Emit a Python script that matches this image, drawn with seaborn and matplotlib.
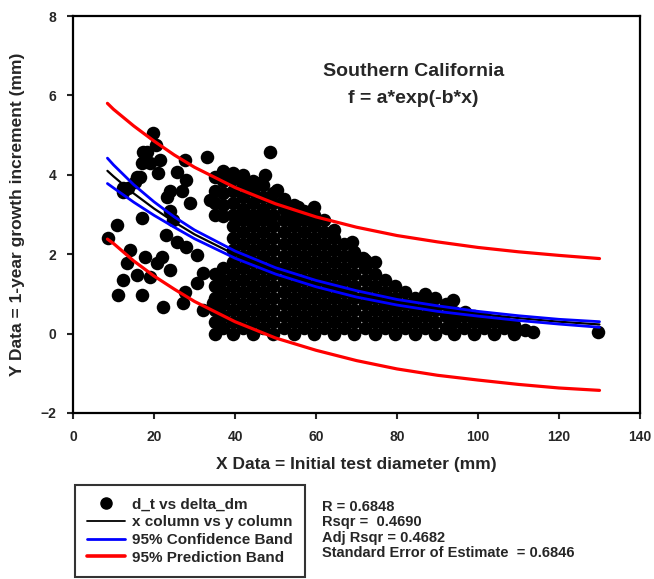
import matplotlib
matplotlib.use("Agg")
import matplotlib.pyplot as plt
import seaborn as sns
import pandas as pd
from matplotlib.lines import Line2D

# scattered points, left / sparse part of the cloud and outliers
sparse_x = [8.6, 10.8, 11.1, 12.3, 12.3, 12.4, 13.3, 13.6, 14.0, 15.3, 15.8, 15.8, 16.5,
            17.0, 17.0, 17.3, 17.0, 17.8, 18.3, 19.0, 19.0, 19.8, 20.5, 20.7, 21.0, 21.5,
            22.2, 22.0, 23.0, 23.2, 24.0, 24.0, 24.7, 24.0, 25.7, 25.7, 27.0, 27.7, 27.7,
            27.2, 28.0, 28.0, 29.0, 30.6, 30.6, 32.0, 32.0, 33.0, 33.8, 34.6, 36.3,
            39.5, 46.2, 47.4, 48.6, 50.3, 55.6, 69.0, 71.6, 74.6, 93.8, 96.8, 113.6, 129.6]
sparse_y = [2.40, 2.73, 0.97, 1.35, 3.66, 3.56, 1.78, 3.66, 2.10, 3.82, 1.47, 3.94, 3.94,
            0.97, 2.90, 4.57, 4.30, 1.93, 4.57, 1.43, 4.30, 5.05, 4.75, 1.78, 4.04, 4.37,
            0.67, 1.93, 2.48, 3.44, 3.60, 3.10, 2.85, 1.60, 4.07, 2.30, 3.60, 4.37, 1.05,
            0.77, 3.86, 2.18, 3.30, 1.98, 1.27, 1.52, 0.60, 4.45, 3.36, 0.77, 0.22,
            4.04, 3.79, 3.99, 4.57, 3.61, 3.19, 2.30, 1.90, 1.80, 0.85, 0.55, 0.05, 0.03]

# dense part of the cloud, one list of growth values per diameter column
col_x = [35.0, 37.0, 39.5, 42.0, 44.5, 47.0, 49.5, 52.0, 54.5, 57.0, 59.5, 62.0, 64.5,
         67.0, 69.5, 72.0, 74.5, 77.0, 79.5, 82.0, 84.5, 87.0, 89.5, 92.0, 94.0, 96.5,
         99.0, 101.5, 104.0, 106.5, 109.0, 111.5]
col_y = [
    [0.00, 0.30, 0.60, 0.90, 1.20, 1.50, 3.00, 3.30, 3.60, 3.95],
    [0.15, 0.45, 0.75, 1.05, 1.35, 1.65, 2.95, 3.25, 3.55, 3.85, 4.10],
    [0.00, 0.30, 0.60, 0.90, 1.20, 1.50, 1.80, 2.10, 2.40, 2.70, 3.00, 3.30, 3.60, 3.90],
    [0.15, 0.45, 0.75, 1.05, 1.35, 1.65, 1.95, 2.25, 2.55, 2.85, 3.15, 3.45, 3.75, 4.00],
    [0.00, 0.30, 0.60, 0.90, 1.20, 1.50, 1.80, 2.10, 2.40, 2.70, 3.00, 3.30, 3.60, 3.85],
    [0.15, 0.45, 0.75, 1.05, 1.35, 1.65, 1.95, 2.25, 2.55, 2.85, 3.15, 3.45, 3.75],
    [0.00, 0.30, 0.60, 0.90, 1.20, 1.50, 1.80, 2.10, 2.40, 2.70, 3.00, 3.30, 3.55],
    [0.15, 0.45, 0.75, 1.05, 1.35, 1.65, 1.95, 2.25, 2.55, 2.85, 3.15, 3.40],
    [0.00, 0.30, 0.60, 0.90, 1.20, 1.50, 1.80, 2.10, 2.40, 2.70, 3.00, 3.25],
    [0.15, 0.45, 0.75, 1.05, 1.35, 1.65, 1.95, 2.25, 2.55, 2.85, 3.10],
    [0.00, 0.30, 0.60, 0.90, 1.20, 1.50, 1.80, 2.10, 2.40, 2.70, 3.00, 3.20],
    [0.15, 0.45, 0.75, 1.05, 1.35, 1.65, 1.95, 2.25, 2.55, 2.85],
    [0.00, 0.30, 0.60, 0.90, 1.20, 1.50, 1.80, 2.10, 2.40, 2.60],
    [0.15, 0.45, 0.75, 1.05, 1.35, 1.65, 1.95, 2.25],
    [0.00, 0.30, 0.60, 0.90, 1.20, 1.50, 1.80, 2.05],
    [0.15, 0.45, 0.75, 1.05, 1.35, 1.65, 1.85],
    [0.00, 0.30, 0.60, 0.90, 1.20, 1.50],
    [0.15, 0.45, 0.75, 1.05, 1.35],
    [0.00, 0.30, 0.60, 0.90, 1.20],
    [0.15, 0.45, 0.75, 1.05],
    [0.00, 0.30, 0.60, 0.90],
    [0.15, 0.45, 0.75, 1.00],
    [0.00, 0.30, 0.60, 0.90],
    [0.15, 0.45, 0.75],
    [0.00, 0.30, 0.55],
    [0.15, 0.45],
    [0.00, 0.30, 0.45],
    [0.15, 0.40],
    [0.00, 0.30],
    [0.15, 0.30],
    [0.00, 0.22],
    [0.10],
]

# regression curve and bands
x_fit = [8.5, 10, 15, 20, 25, 30, 40, 50, 60, 70, 80, 90, 100, 110, 120, 130]
fit_y = [4.10, 3.96, 3.53, 3.15, 2.81, 2.50, 1.99, 1.58, 1.26, 1.00, 0.79, 0.63, 0.50, 0.39, 0.30, 0.23]
conf_hi = [4.42, 4.25, 3.75, 3.32, 2.94, 2.61, 2.08, 1.66, 1.34, 1.08, 0.86, 0.70, 0.56, 0.45, 0.36, 0.30]
conf_lo = [3.78, 3.67, 3.31, 2.98, 2.68, 2.39, 1.90, 1.50, 1.18, 0.92, 0.72, 0.56, 0.44, 0.33, 0.24, 0.16]
pred_hi = [5.80, 5.65, 5.23, 4.85, 4.50, 4.19, 3.68, 3.27, 2.94, 2.68, 2.47, 2.31, 2.17, 2.06, 1.97, 1.89]
pred_lo = [2.38, 2.27, 1.83, 1.45, 1.12, 0.81, 0.30, -0.11, -0.42, -0.68, -0.89, -1.05, -1.17, -1.28, -1.37, -1.43]

legend_labels = ['d_t vs delta_dm', 'x column vs y column', '95% Confidence Band', '95% Prediction Band']
stats_lines = ['R = 0.6848', 'Rsqr =  0.4690', 'Adj Rsqr = 0.4682', 'Standard Error of Estimate  = 0.6846']

sns.set_style('white')
plt.rcParams['font.family'] = ['Liberation Sans', 'DejaVu Sans']
plt.rcParams['font.weight'] = 'bold'

px = list(sparse_x)
py = list(sparse_y)
for cx, ys in zip(col_x, col_y):
    for yv in ys:
        px.append(cx)
        py.append(yv)
pts = pd.DataFrame({'diam': px, 'growth': py})
curves = pd.DataFrame({'x': x_fit, 'fit': fit_y, 'chi': conf_hi, 'clo': conf_lo,
                       'phi': pred_hi, 'plo': pred_lo})

fig = plt.figure(figsize=(6.54, 5.79), dpi=100)
ax = fig.add_axes([73 / 654, 1 - 413 / 579, (640 - 73) / 654, (413 - 16) / 579])

sns.scatterplot(data=pts, x='diam', y='growth', ax=ax, color='black', s=95,
                linewidth=0, zorder=2)
sns.lineplot(data=curves, x='x', y='fit', ax=ax, color='black', lw=1.6, sort=False, zorder=3)
for col in ['chi', 'clo']:
    sns.lineplot(data=curves, x='x', y=col, ax=ax, color='#0000ff', lw=2.0, sort=False, zorder=4)
for col in ['phi', 'plo']:
    sns.lineplot(data=curves, x='x', y=col, ax=ax, color='#ff0000', lw=2.3, sort=False, zorder=4)

ax.set_xlim(0, 140)
ax.set_ylim(-2, 8)
ax.set_xticks(range(0, 141, 20))
ax.set_yticks(range(-2, 9, 2))
ax.tick_params(direction='out', length=4, width=1.5, labelsize=10, pad=8,
               bottom=True, left=True, top=False, right=False)
for sp in ax.spines.values():
    sp.set_visible(True)
    sp.set_color('black')
    sp.set_linewidth(1.6)

ax.set_xlabel('X Data = Initial test diameter (mm)', fontsize=12.5, fontweight='bold')
ax.set_ylabel('Y Data = 1-year growth increment (mm)', fontsize=12.5, fontweight='bold')
ax.xaxis.set_label_coords(0.5, -0.11)
ax.yaxis.set_label_coords(-0.085, 0.5)

ax.text(0.6, 0.86, 'Southern California', transform=ax.transAxes, ha='center',
        va='center', fontsize=14, fontweight='bold')
ax.text(0.6, 0.792, 'f = a*exp(-b*x)', transform=ax.transAxes, ha='center',
        va='center', fontsize=14, fontweight='bold')

handles = [
    Line2D([], [], ls='none', marker='o', color='black', markersize=8),
    Line2D([], [], color='black', lw=1.3),
    Line2D([], [], color='#0000ff', lw=2.0),
    Line2D([], [], color='#ff0000', lw=2.6),
]
leg = fig.legend(handles, legend_labels, loc='upper left',
                 bbox_to_anchor=(75 / 654, 1 - 485 / 579), frameon=True, fancybox=False,
                 handlelength=2.5, handletextpad=0.45, borderpad=0.8,
                 labelspacing=0.25, borderaxespad=0, prop={'weight': 'bold', 'size': 11})
leg.get_frame().set_edgecolor('black')
leg.get_frame().set_linewidth(1.5)

fig.text(322 / 654, 1 - 500 / 579, '\n'.join(stats_lines), ha='left', va='top',
         fontsize=10.5, fontweight='bold', linespacing=1.12)

fig.savefig('out.png', dpi=100)
